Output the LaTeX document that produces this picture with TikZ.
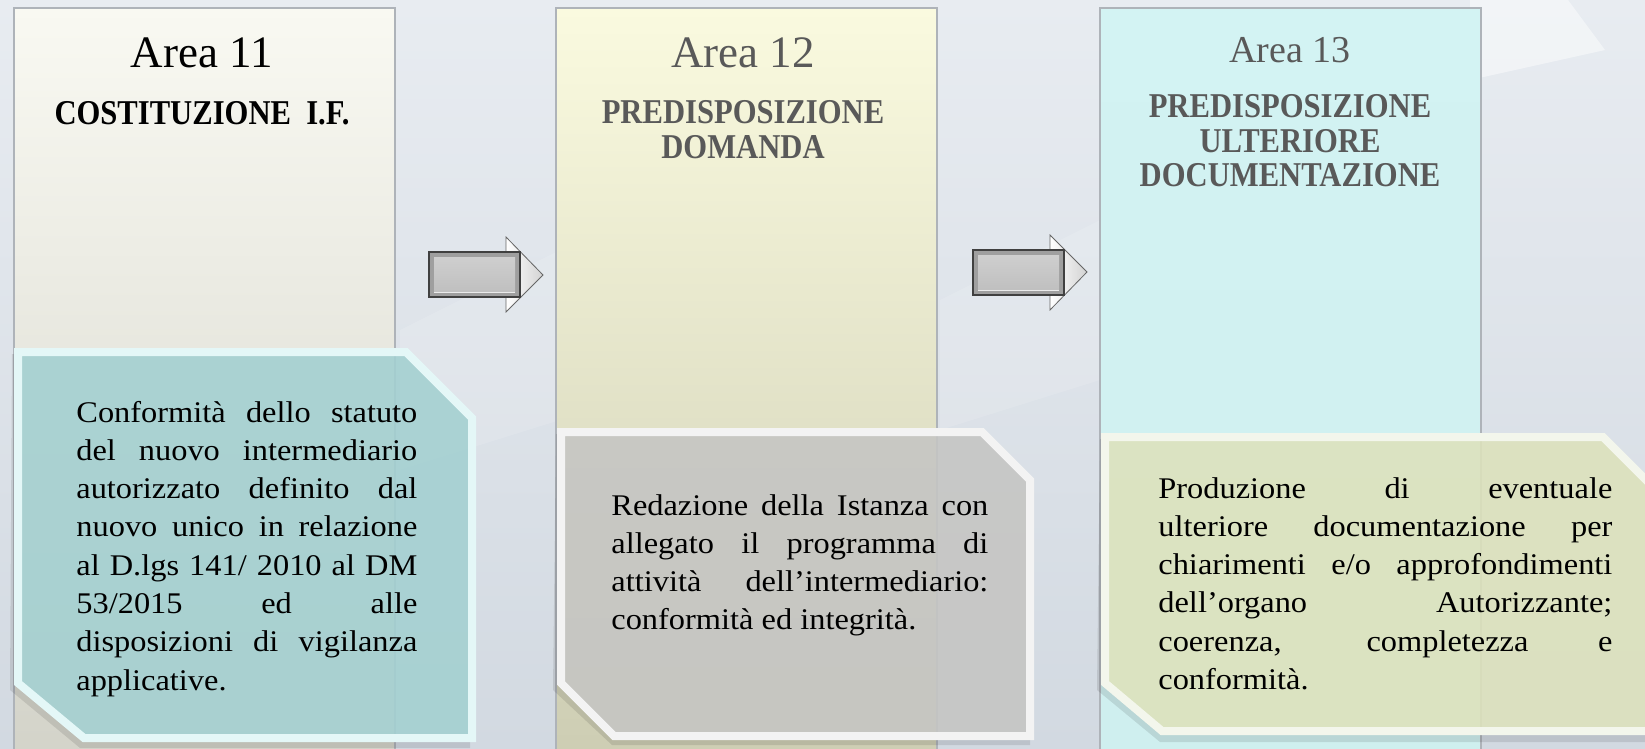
\documentclass[tikz,border=0pt]{standalone}
\usepackage{fontspec}
\setmainfont{Liberation Serif}
\newfontfamily\headF{Liberation Serif}[FakeStretch=0.88]
\newfontfamily\bodyF{Liberation Serif}[FakeStretch=1.08]
\definecolor{bgTop}{HTML}{E8ECF1}
\definecolor{bgBot}{HTML}{D2D9E1}
\definecolor{colEdge}{HTML}{AEB3B9}
\definecolor{grayT}{HTML}{595959}
\definecolor{c11Top}{HTML}{F9F9F2}
\definecolor{c11Mid}{HTML}{E2E2D9}
\definecolor{c11Bot}{HTML}{D3D3C9}
\definecolor{c12Top}{HTML}{FAFADF}
\definecolor{c12Mid}{HTML}{DCDCC3}
\definecolor{c12Bot}{HTML}{CDCDB3}
\definecolor{c13Top}{HTML}{D3F3F3}
\definecolor{c13Bot}{HTML}{CFEFEF}
\definecolor{tealF}{HTML}{A6D3D4}
\definecolor{tealB}{HTML}{E4F7F7}
\definecolor{grayF}{HTML}{C8C8C6}
\definecolor{grayB}{HTML}{F3F3F3}
\definecolor{limeF}{HTML}{E0E5BF}
\definecolor{limeB}{HTML}{F3F6EC}
\begin{document}
\begin{tikzpicture}[x=0.5pt,y=-0.5pt,colS/.style={draw=colEdge,line width=0.8pt},areaS/.style={anchor=base,inner sep=0pt,font=\fontsize{22.5}{27}\selectfont},headS/.style={anchor=base,inner sep=0pt,align=center,font=\headF\bfseries\fontsize{17.4}{17.5}\selectfont},bodyS/.style={anchor=base west,inner sep=0pt,align=justify,font=\bodyF\fontsize{15}{19.15}\selectfont},frameS/.style={line width=4pt,line join=miter,fill opacity=0.88},shadowS/.style={fill=black,opacity=0.10},headArS/.style={left color=white,right color=gray!35,draw=gray!80!black,line width=0.4pt},bodyArS/.style={fill=gray!75,draw=black!75,line width=1pt}]
\useasboundingbox (0,0) rectangle (1645,749);
% background
\shade[top color=bgTop,bottom color=bgBot] (0,0) rectangle (1645,749);
\fill[white,opacity=0.45] (1470,0) -- (1568,0) -- (1605,50) -- (1470,80) -- cycle;
\fill[white,opacity=0.12] (400,330) -- (560,250) -- (560,420) -- (400,470) -- cycle;
\fill[white,opacity=0.12] (940,300) -- (1100,220) -- (1100,380) -- (940,430) -- cycle;

% columns
\shade[top color=c11Top,middle color=c11Mid,bottom color=c11Bot] (14,8) rectangle (395,760);
\draw[colS] (14,8) rectangle (395,760);
\shade[top color=c12Top,middle color=c12Mid,bottom color=c12Bot] (556,8) rectangle (937,760);
\draw[colS] (556,8) rectangle (937,760);
\shade[top color=c13Top,bottom color=c13Bot] (1100,8) rectangle (1481,760);
\draw[colS] (1100,8) rectangle (1481,760);

% titles
\node[areaS,text=black] (A11) at (202,68) {Area 11};
\node[headS,text=black] (T11) at (202,125) {COSTITUZIONE\ \ I.F.};
\node[areaS,text=grayT] (A12) at (743,68) {Area 12};
\node[headS,text=grayT] (T12) at (743,159) {PREDISPOSIZIONE\\DOMANDA};
\node[areaS,text=grayT,font=\fontsize{19}{23}\selectfont] (A13) at (1290,63) {Area 13};
\node[headS,text=grayT] (T13) at (1290,187) {PREDISPOSIZIONE\\ULTERIORE\\DOCUMENTAZIONE};

% arrows
\shadedraw[headArS] (506,237) -- (543,275) -- (506,312) -- cycle;
\draw[bodyArS] (429,252) rectangle (520,297);
\shade[top color=gray!38,bottom color=gray!50] (434,257) rectangle (515,292);
\draw[white,opacity=0.7] (434,292) -- (515,292);
\shadedraw[headArS] (1050,235) -- (1087,272) -- (1050,310) -- cycle;
\draw[bodyArS] (973,250) rectangle (1064,295);
\shade[top color=gray!38,bottom color=gray!50] (978,255) rectangle (1059,290);
\draw[white,opacity=0.7] (978,290) -- (1059,290);

% note boxes
\fill[shadowS] (12,354) -- (404,354) -- (470,420) -- (470,748) -- (80,748) -- (10,690) -- cycle;
\filldraw[frameS,fill=tealF,draw=tealB] (18,352) -- (406,352) -- (472,418) -- (472,738) -- (84,738) -- (18,683) -- cycle;
\fill[shadowS] (556,434) -- (982,434) -- (1030,482) -- (1030,745) -- (612,745) -- (553,690) -- cycle;
\filldraw[frameS,fill=grayF,draw=grayB] (561,432) -- (982,432) -- (1030,480) -- (1030,736) -- (614,736) -- (561,683) -- cycle;
\fill[shadowS] (1100,439) -- (1603,439) -- (1655,490) -- (1655,742) -- (1160,742) -- (1097,690) -- cycle;
\filldraw[frameS,fill=limeF,draw=limeB] (1105,437) -- (1603,437) -- (1655,489) -- (1655,731) -- (1162,731) -- (1105,683) -- cycle;

\node[bodyS,text width=170.5pt] (N11) at (76,422) {Conformità dello statuto\linebreak del nuovo intermediario\linebreak autorizzato definito dal\linebreak nuovo unico in relazione\linebreak al D.lgs 141/ 2010 al DM\linebreak 53/2015 ed alle\linebreak disposizioni di vigilanza\linebreak applicative.};
\node[bodyS,text width=188.5pt] (N12) at (611,515) {Redazione della Istanza con\linebreak allegato il programma di\linebreak attività dell’intermediario:\linebreak conformità ed integrità.};
\node[bodyS,text width=227pt] (N13) at (1158,498) {Produzione di eventuale\linebreak ulteriore documentazione per\linebreak chiarimenti e/o approfondimenti\linebreak dell’organo Autorizzante;\linebreak coerenza, completezza e\linebreak conformità.};
\end{tikzpicture}
\end{document}
